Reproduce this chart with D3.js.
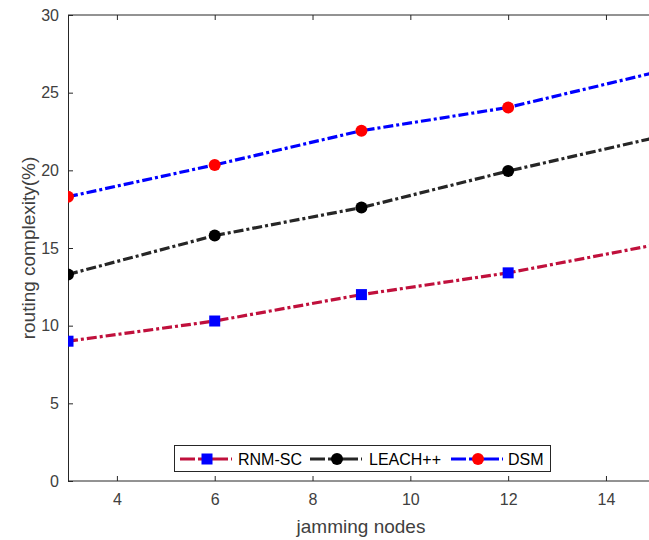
<!DOCTYPE html>
<html><head><meta charset="utf-8">
<script src="https://cdn.jsdelivr.net/npm/d3@7"></script>
<style>body{margin:0;background:#fff}svg{display:block}text{font-family:"Liberation Sans",Arial,sans-serif}</style>
</head><body>
<svg id="c" width="649" height="540"></svg>
<script>
const xValues = [3, 6, 9, 12, 15];
const rnmSC = [9.0, 10.3, 12.0, 13.4, 15.2];
const leachPP = [13.3, 15.8, 17.6, 19.95, 22.1];
const dsm = [18.3, 20.35, 22.55, 24.05, 26.3];
const xTicks = [4, 6, 8, 10, 12, 14];
const yTicks = [0, 5, 10, 15, 20, 25, 30];
const seriesNames = ["RNM-SC", "LEACH++", "DSM"];

const svg = d3.select("#c");
const L = 68, T = 15, B = 481, R = 649;
const x = d3.scaleLinear().domain([3, 14.88]).range([L, R]);
const y = d3.scaleLinear().domain([0, 30]).range([B, T]);
const axisCol = "#262626";

svg.append("defs").append("clipPath").attr("id","clip")
  .append("rect").attr("x", L).attr("y", T - 8).attr("width", R - L + 10).attr("height", B - T + 16);

// axes
const gx = svg.append("g").attr("transform", `translate(0,${B})`)
  .call(d3.axisBottom(x).tickValues(xTicks).tickSizeInner(-5).tickSizeOuter(0).tickPadding(13));
const gxt = svg.append("g").attr("transform", `translate(0,${T})`)
  .call(d3.axisTop(x).tickValues(xTicks).tickSizeInner(-5).tickSizeOuter(0).tickFormat(""));
const gy = svg.append("g").attr("transform", `translate(${L},0)`)
  .call(d3.axisLeft(y).tickValues(yTicks).tickSizeInner(-5).tickSizeOuter(0).tickPadding(9));
[gx, gxt, gy].forEach(g => {
  g.select(".domain").attr("stroke", axisCol).attr("stroke-width", 1);
  g.selectAll(".tick line").attr("stroke", axisCol);
  g.selectAll("text").attr("fill", "#404040").style("font-size", "16px");
});
gxt.select(".domain").attr("d", `M${L},0H${R}`);
gx.select(".domain").attr("d", `M${L},0H${R}`);

svg.append("text").attr("x", 361).attr("y", 533).attr("text-anchor","middle")
  .attr("fill","#404040").style("font-size","19px").text("jamming nodes");
svg.append("text").attr("transform", "translate(35,248) rotate(-90)").attr("text-anchor","middle")
  .attr("fill","#404040").style("font-size","19px").text("routing complexity(%)");

const series = [
  {name: seriesNames[0], vals: rnmSC, line: "#c0103c", marker: "square", fill: "#0000ff"},
  {name: seriesNames[1], vals: leachPP, line: "#262626", marker: "circle", fill: "#000000"},
  {name: seriesNames[2], vals: dsm, line: "#0000ff", marker: "circle", fill: "#ff0000"}
];
const dash = "10,3,3,3";
const plot = svg.append("g").attr("clip-path","url(#clip)");
const lineGen = d3.line().x((d,i) => x(xValues[i])).y(d => y(d));

function drawMarker(g, s, cx, cy) {
  if (s.marker === "square") {
    g.append("rect").attr("x", cx - 5.5).attr("y", cy - 5.5).attr("width", 11).attr("height", 11)
      .attr("fill", s.fill);
  } else {
    g.append("circle").attr("cx", cx).attr("cy", cy).attr("r", 6).attr("fill", s.fill);
  }
}

series.forEach(s => {
  plot.append("path").datum(s.vals).attr("d", lineGen).attr("fill","none")
    .attr("stroke", s.line).attr("stroke-width", 3.2).attr("stroke-dasharray", dash);
  s.vals.forEach((v,i) => drawMarker(plot, s, x(xValues[i]), y(v)));
});

// legend
const lg = svg.append("g");
lg.append("rect").attr("x", 174.5).attr("y", 445.5).attr("width", 376).attr("height", 26)
  .attr("fill","#fff").attr("stroke", axisCol).attr("stroke-width", 1);
const items = [
  {x0: 180, tx: 238},
  {x0: 310, tx: 369},
  {x0: 451, tx: 508}
];
series.forEach((s, i) => {
  const it = items[i], cy = 459;
  lg.append("line").attr("x1", it.x0).attr("x2", it.x0 + 52).attr("y1", cy).attr("y2", cy)
    .attr("stroke", s.line).attr("stroke-width", 3.2).attr("stroke-dasharray", "15,3,30,3,2,3");
  drawMarker(lg, s, it.x0 + 27, cy);
  lg.append("text").attr("x", it.tx).attr("y", 465).attr("fill", "#000")
    .style("font-size", "16px").text(s.name);
});
</script>
</body></html>
